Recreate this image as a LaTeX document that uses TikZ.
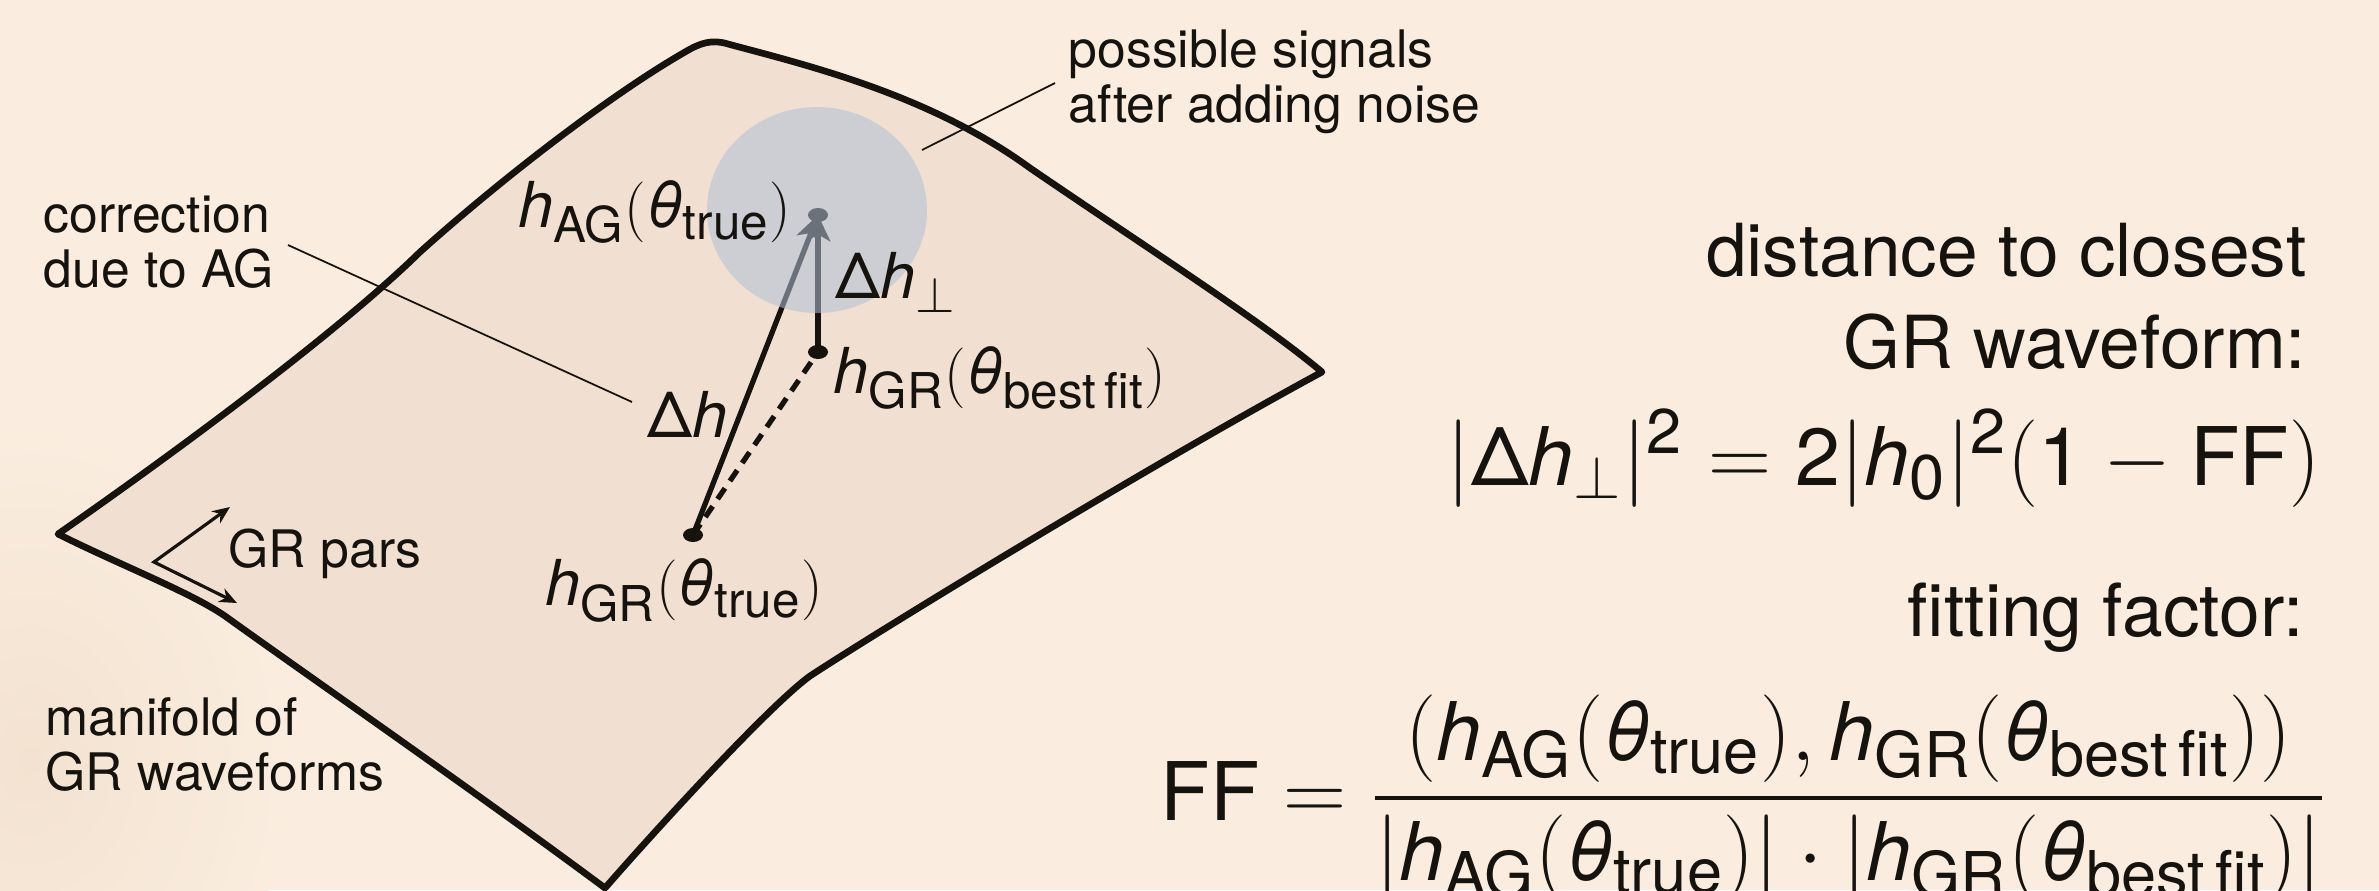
\documentclass[tikz,border=0pt]{standalone}
\usepackage{amsmath}
\usepackage[no-math]{fontspec}
\setmainfont{TeX Gyre Heros}
\usetikzlibrary{arrows.meta, positioning, calc}

\definecolor{paper}{RGB}{250,237,223}
\definecolor{paperdark}{RGB}{243,226,208}
\definecolor{sheet}{RGB}{241,224,209}
\definecolor{noise}{RGB}{176,192,214}
\definecolor{ink}{RGB}{22,18,14}

\renewcommand{\defaultscriptratio}{.78}

% sans waveform symbols
\newcommand{\hs}{\textit{h}}
\newcommand{\ths}{\textit{θ}}
\newcommand{\wf}[2]{\hs_{\text{#1}}(\ths_{\text{#2}})}

\begin{document}
\begin{tikzpicture}[
    x=0.01cm, y=-0.01cm,
    txt/.style={font=\fontsize{14.7}{15.6}\selectfont, inner sep=0pt, align=left, text=ink},
    big/.style={font=\fontsize{20.8}{25.9}\selectfont, inner sep=0pt, align=right, text=ink},
    lab/.style={font=\fontsize{18}{20}\selectfont, inner sep=0pt, text=ink},
    formula/.style={font=\fontsize{23}{27}\selectfont, inner sep=0pt, text=ink},
    manifold/.style={draw=ink, fill=sheet, line width=1.9pt, line join=round},
    leader/.style={draw=ink, line width=0.5pt},
    vec/.style={-{Stealth[length=7.5pt, width=7pt, inset=2pt]}, draw=ink, line width=1.5pt},
    fitline/.style={draw=ink, line width=1.5pt, dash pattern=on 3.7pt off 2.5pt},
    parvec/.style={{Stealth[length=5pt, width=4.2pt]}-{Stealth[length=5pt, width=4.2pt]}, draw=ink, line width=0.9pt},
    dotc/.style={fill=ink}
]
\useasboundingbox (0,0) rectangle (2379,890);
\clip (0,0) rectangle (2379,890);
\fill[paper] (0,0) rectangle (2379,890);
\shade[inner color=paperdark, outer color=paper] (30,760) ellipse [x radius=260, y radius=330];

% manifold of GR waveforms
\draw[manifold] (58,534)
  .. controls (150,470) and (330,340) .. (420,252)
  .. controls (500,180) and (610,95) .. (685,52)
  .. controls (700,43) and (712,39) .. (728,44)
  .. controls (810,66) and (930,95) .. (1030,168)
  .. controls (1150,250) and (1260,320) .. (1322,372)
  .. controls (1150,465) and (880,630) .. (810,676)
  .. controls (770,705) and (660,825) .. (605,888)
  .. controls (480,795) and (300,670) .. (225,616)
  .. controls (190,592) and (120,565) .. (58,534) -- cycle;

\coordinate (ptrue) at (693,535);
\coordinate (pbest) at (818,352);
\coordinate (pag) at (818,215);
\coordinate (ncen) at (817,210);

% leader lines
\coordinate (corrA) at (288,245);
\coordinate (corrB) at (632,402);
\coordinate (possA) at (1055,83);
\coordinate (possB) at (922,150);
\draw[leader] (corrA) -- (corrB);
\draw[leader] (possA) -- (possB);

% GR parameter directions
\coordinate (gv) at (154,562);
\coordinate (gu) at (230,507);
\coordinate (gd) at (237,603);
\draw[parvec] (gu) -- (gv) -- (gd);

% waveforms
\draw[fitline] (ptrue) -- (pbest);
\draw[vec] (ptrue) -- (pag);
\draw[vec] (pbest) -- (pag);
\foreach \p in {ptrue, pbest, pag}
  \fill[dotc] (\p) ellipse [x radius=10, y radius=7];
\fill[noise, fill opacity=0.55] (ncen) ellipse [x radius=110, y radius=103];

% labels
\node[txt, anchor=base west] (corr) at (43,287) {correction\\due to AG};
\node[txt, anchor=base west] (poss) at (1068,122) {possible signals\\after adding noise};
\node[txt, anchor=base west] (grpars) at (228,567) {GR pars};
\node[txt, anchor=base west] (mani) at (45,790) {manifold of\\GR waveforms};

\node[lab, below left=0.12cm and 0.26cm of pag, anchor=base east] (lag) {$\wf{AG}{true}$};
\node[lab, below right=0.83cm and 0.17cm of pag, anchor=base west] (lperp) {$\text{Δ}\hs_\perp$};
\node[lab, below right=0.41cm and 0.15cm of pbest, anchor=base west] (lbest) {$\wf{GR}{best\,fit}$};
\node[lab, anchor=base west] (ldh) at (647,437) {$\text{Δ}\hs$};
\node[lab, below left=0.7cm and 0.09cm of ptrue, anchor=base] (ltrue) {$\wf{GR}{true}$};

\node[big, anchor=base east] (dist) at (2307,368) {distance to closest\\GR waveform:};
\node[formula, anchor=base east] (perp) at (2321,485) {$|\text{Δ}\hs_\perp|^{\text{2}} = \text{2}|\hs_{\text{0}}|^{\text{2}}(\text{1}-\text{FF})$};
\node[big, anchor=base east] (fit) at (2304,636) {fitting factor:};
\node[formula, anchor=base west] (ffrac) at (1160,820) {$\displaystyle \text{FF} = \frac{(\wf{AG}{true}, \wf{GR}{best\,fit})}{|\wf{AG}{true}|\cdot|\wf{GR}{best\,fit}|}$};
\end{tikzpicture}
\end{document}
